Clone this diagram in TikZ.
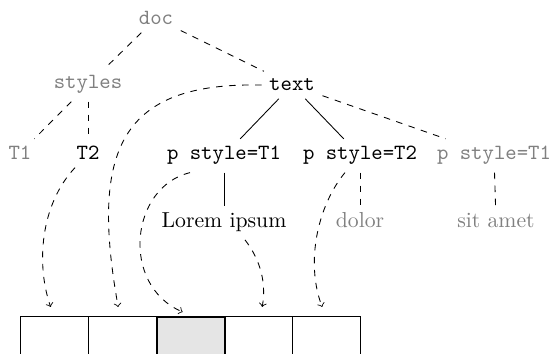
\documentclass[tikz,border=0pt]{standalone}
\usetikzlibrary{calc}
\begin{document}
\begin{tikzpicture}[x={(0.4608pt,0pt)}, y={(0pt,-0.4608pt)},
  tn/.style={font=\ttfamily, anchor=base},
  rm/.style={anchor=base},
  gr/.style={text=gray},
  cell/.style={draw, minimum width=31.33pt, minimum height=30pt, inner sep=0pt, anchor=north},
  arr/.style={dashed, ->}]
\useasboundingbox (0,0) rectangle (552,354);
\clip (0,0) rectangle (552,354);
% tree nodes
\node[tn,gr] (doc) at (156,25) {doc};
\node[tn,gr] (styles) at (88,89) {styles};
\node[tn] (text) at (292,91) {text};
\node[tn,gr] (T1) at (20,160) {T1};
\node[tn] (T2) at (88,160) {T2};
\node[tn] (p1) at (224,160) {p style=T1};
\node[tn] (p2) at (360,160) {p style=T2};
\node[tn,gr] (p3) at (494,160) {p style=T1};
\node[rm] (lorem) at (224,228) {Lorem ipsum};
\node[rm,gr] (dolor) at (360,228) {dolor};
\node[rm,gr] (sit) at (496,228) {sit amet};
% cells
\node[cell] (c1) at (54.7,316) {};
\node[cell] (c2) at (122.7,316) {};
\node[cell] (c4) at (258.7,316) {};
\node[cell] (c5) at (326.7,316) {};
\node[cell, fill=black!10, thick] (c3) at (190.7,316) {};
% tree edges
\draw[dashed] (doc) -- (styles);
\draw[dashed] (doc) -- (text);
\draw[dashed] (styles) -- (T1);
\draw[dashed] (styles) -- (T2);
\draw (text) -- (p1);
\draw (text) -- (p2);
\draw[dashed] (text) -- (p3);
\draw (p1) -- (lorem);
\draw[dashed] (p2) -- (dolor);
\draw[dashed] (p3) -- (sit);
% curved arrows
\draw[arr] ($(T2.south)+(-13,0)$) .. controls (40,205) and (36,265) .. ($(c1.north)+(-4,-9)$);
\draw[arr] (text.west) .. controls (120,82) and (90,150) .. ($(c2.north)+(-4.5,-9)$);
\draw[arr] ($(p1.south)+(-34,0)$) .. controls (130,187) and (120,285) .. ($(c3.north)+(-8,-4)$);
\draw[arr] ($(lorem.south)+(21,0)$) .. controls (262,262) and (266,285) .. ($(c4.north)+(3.5,-9)$);
\draw[arr] ($(p2.south)+(-15,0)$) .. controls (318,205) and (305,262) .. ($(c5.north)+(-4.5,-9)$);
\end{tikzpicture}
\end{document}
